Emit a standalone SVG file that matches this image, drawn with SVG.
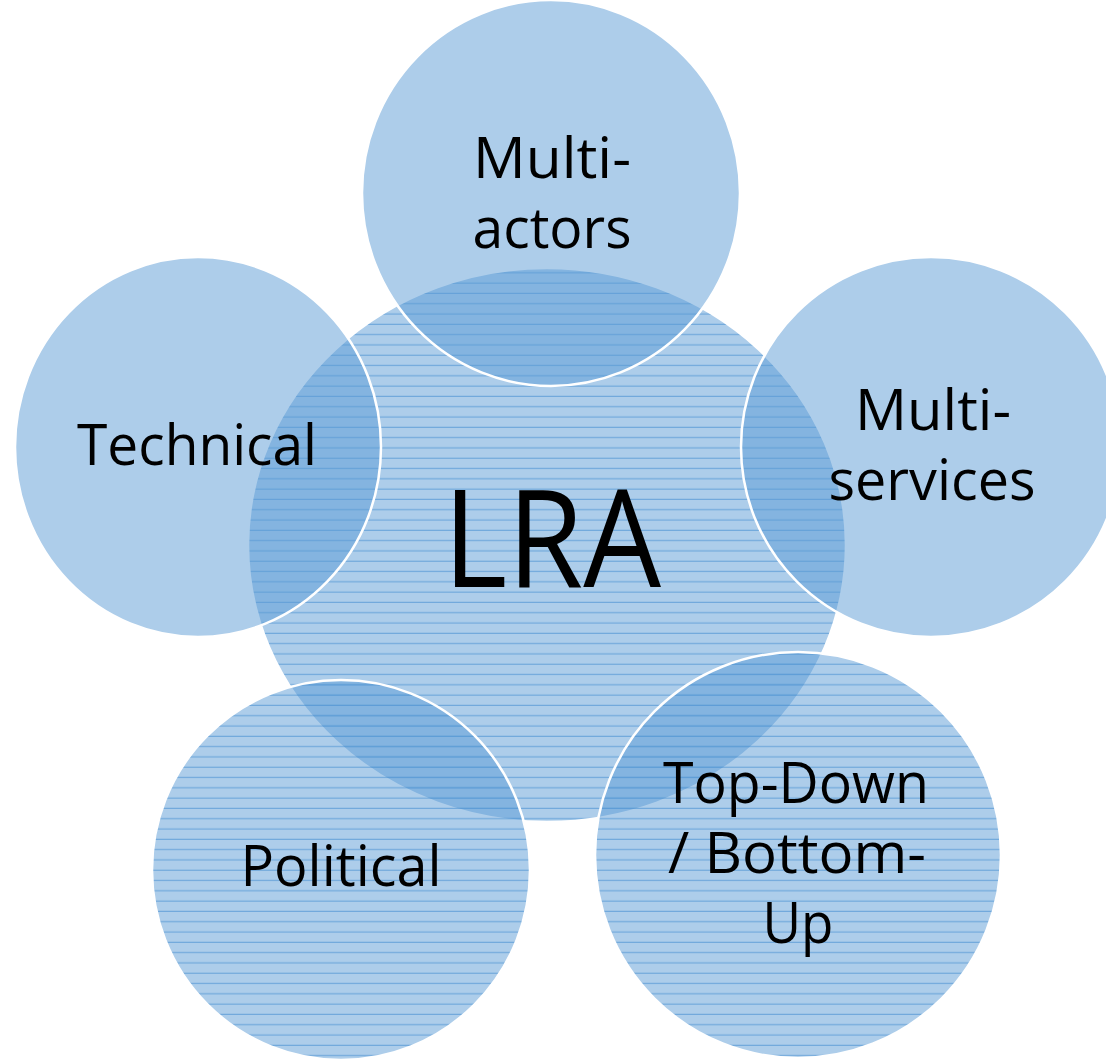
<svg xmlns="http://www.w3.org/2000/svg" width="1106" height="1059" viewBox="0 0 1106 1059">
<defs>
<pattern id="hatch" patternUnits="userSpaceOnUse" width="20" height="10.3">
<rect width="20" height="10.3" fill="#5b9bd5" fill-opacity="0.5"/>
<line x1="0" y1="5" x2="20" y2="5" stroke="#5b9bd5" stroke-opacity="0.75" stroke-width="1.2"/>
</pattern>
</defs>
<style>
.plain{fill:#5b9bd5;fill-opacity:0.5;stroke:#ffffff;stroke-width:2.5}
.hatched{fill:url(#hatch);stroke:#ffffff;stroke-width:2.5}
text{font-family:"Open Sans","Noto Sans","Liberation Sans",Arial,sans-serif;fill:#000000;text-anchor:middle;font-variant-ligatures:none}
.lbl{font-size:56px}
.big{font-size:136px}
</style>
<g id="node-lra">
<ellipse class="hatched" cx="547" cy="545" rx="299" ry="277"/>
</g>
<g id="node-multi-actors">
<ellipse class="plain" cx="551" cy="193" rx="189" ry="193"/>
</g>
<g id="node-technical">
<ellipse class="plain" cx="198" cy="447" rx="183" ry="190"/>
</g>
<g id="node-multi-services">
<ellipse class="plain" cx="931" cy="447" rx="190" ry="190"/>
</g>
<g id="node-political">
<ellipse class="hatched" cx="341" cy="870" rx="189" ry="190"/>
</g>
<g id="node-topdown">
<ellipse class="hatched" cx="798" cy="855" rx="203" ry="203"/>
</g>
<g id="connectors"></g>
<g id="labels">
<text class="big" x="552" y="587" textLength="218" lengthAdjust="spacingAndGlyphs">LRA</text>
<text class="lbl" x="552" y="178" textLength="158" lengthAdjust="spacingAndGlyphs">Multi-</text>
<text class="lbl" x="552" y="248" textLength="159" lengthAdjust="spacingAndGlyphs">actors</text>
<text class="lbl" x="197" y="465" textLength="240" lengthAdjust="spacingAndGlyphs">Technical</text>
<text class="lbl" x="933" y="430" textLength="156" lengthAdjust="spacingAndGlyphs">Multi-</text>
<text class="lbl" x="932" y="500" textLength="207" lengthAdjust="spacingAndGlyphs">services</text>
<text class="lbl" x="341" y="886" textLength="201" lengthAdjust="spacingAndGlyphs">Political</text>
<text class="lbl" x="796" y="803" textLength="266" lengthAdjust="spacingAndGlyphs">Top-Down</text>
<text class="lbl" x="797" y="873" textLength="258" lengthAdjust="spacingAndGlyphs">/ Bottom-</text>
<text class="lbl" x="798" y="943" textLength="71" lengthAdjust="spacingAndGlyphs">Up</text>
</g>
</svg>
